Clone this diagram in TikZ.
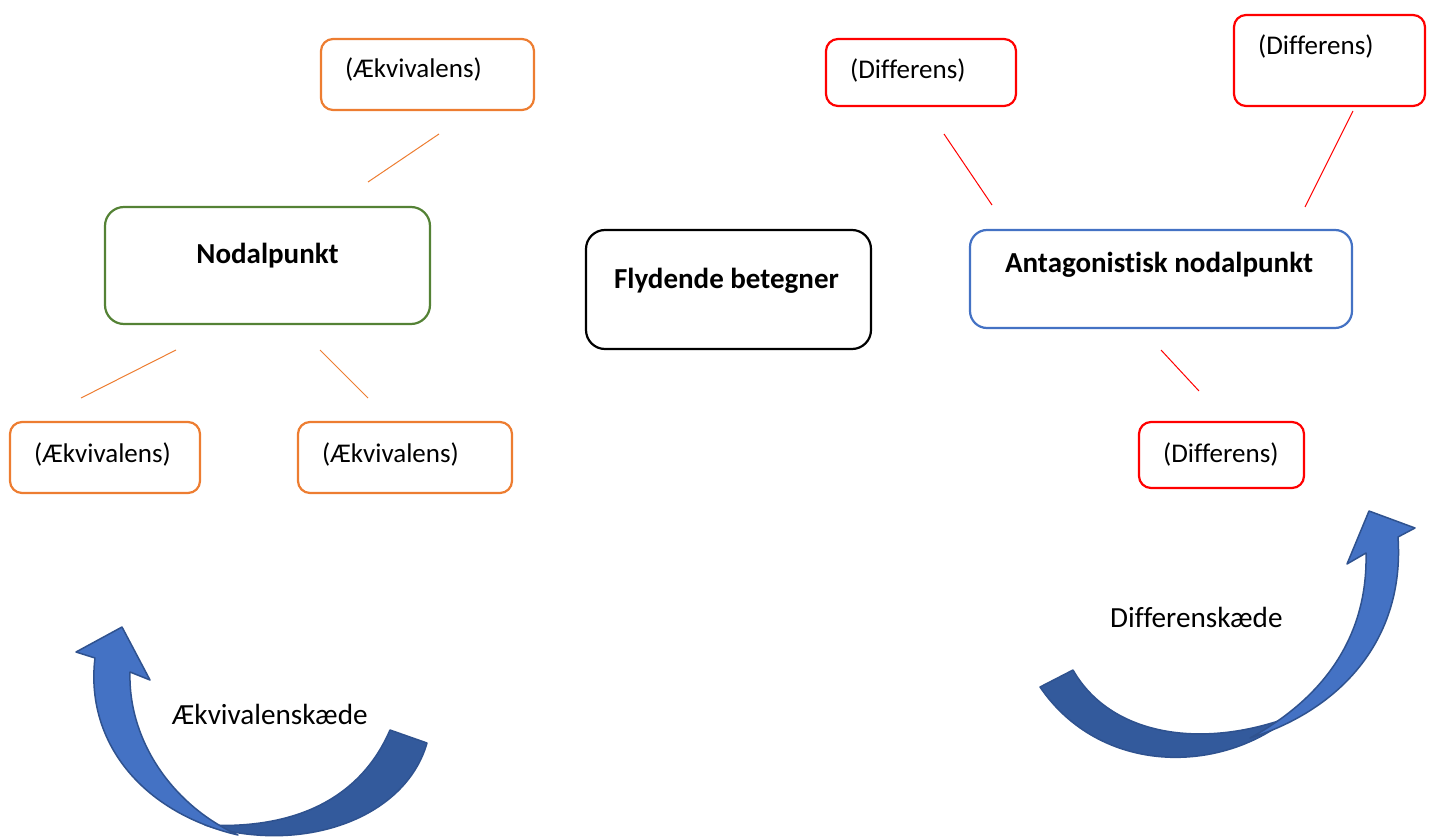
\documentclass[tikz,border=0pt]{standalone}
\usepackage{fontspec}
\setmainfont{Carlito}[Ligatures=NoCommon]
\usetikzlibrary{calc}
\definecolor{eqorange}{HTML}{ED7D31}
\definecolor{difred}{HTML}{FF0000}
\definecolor{nodgreen}{HTML}{548235}
\definecolor{antblue}{HTML}{4472C4}
\definecolor{arrlight}{HTML}{4472C4}
\definecolor{arrdark}{HTML}{335A9C}
\definecolor{arredge}{HTML}{2F528F}
\tikzset{
  bigbox/.style={draw, line width=2.2pt, rounded corners=19pt, fill=white, inner sep=0pt},
  smallbox/.style={draw, line width=2.2pt, rounded corners=12pt, fill=white, inner sep=0pt},
  boxlabel/.style={inner sep=0pt, anchor=base west, font=\fontsize{27}{32}\selectfont},
  headlabel/.style={inner sep=0pt, anchor=base, font=\fontsize{29}{34}\selectfont\bfseries},
  chainlabel/.style={inner sep=0pt, anchor=base west, font=\fontsize{29.2}{34}\selectfont},
  eqline/.style={eqorange, line width=1pt},
  difline/.style={difred, line width=1pt},
  lightband/.style={fill=arrlight, draw=arredge, line width=1.5pt, line join=round},
  darkband/.style={fill=arrdark, draw=arredge, line width=1.5pt, line join=round},
}
\begin{document}
\begin{tikzpicture}[x=1pt, y=-1pt]
\useasboundingbox (0,0) rectangle (1435,840);

% main boxes
\node[bigbox, draw=nodgreen, minimum width=325pt, minimum height=117pt] (nodal) at (267.5,265.5) {};
\node[headlabel] (nodaltxt) at ($(nodal.north)+(0,58)$) {Nodalpunkt};

\node[bigbox, draw=black, minimum width=285pt, minimum height=119pt] (flyd) at (728.5,289.5) {};
\node[headlabel] (flydtxt) at ($(flyd.north)+(-2,60)$) {Flydende betegner};

\node[bigbox, draw=antblue, minimum width=382pt, minimum height=98pt, rounded corners=17pt] (anta) at (1161,279) {};
\node[headlabel] (antatxt) at ($(anta.north)+(-2,44)$) {Antagonistisk nodalpunkt};

% equivalence boxes
\node[smallbox, draw=eqorange, minimum width=213pt, minimum height=71pt] (eqtop) at (427.5,74.5) {};
\node[boxlabel] (eqtoptxt) at ($(eqtop.north west)+(25,40)$) {(Ækvivalens)};

\node[smallbox, draw=eqorange, minimum width=190pt, minimum height=71pt] (eqleft) at (105,457.5) {};
\node[boxlabel] (eqlefttxt) at ($(eqleft.north west)+(25,42)$) {(Ækvivalens)};

\node[smallbox, draw=eqorange, minimum width=214pt, minimum height=71pt] (eqmid) at (405,457.5) {};
\node[boxlabel] (eqmidtxt) at ($(eqmid.north west)+(25,42)$) {(Ækvivalens)};

% difference boxes
\node[smallbox, draw=difred, minimum width=190pt, minimum height=67pt] (diftl) at (921,72.5) {};
\node[boxlabel] (diftltxt) at ($(diftl.north west)+(25,41)$) {(Differens)};

\node[smallbox, draw=difred, minimum width=191pt, minimum height=91pt] (diftr) at (1329.5,60.5) {};
\node[boxlabel] (diftrtxt) at ($(diftr.north west)+(25,41)$) {(Differens)};

\node[smallbox, draw=difred, minimum width=165pt, minimum height=66pt] (difb) at (1221.5,455) {};
\node[boxlabel] (difbtxt) at ($(difb.north west)+(25,42)$) {(Differens)};

% free-standing link strokes
\coordinate (e1a) at (368,182); \coordinate (e1b) at (439,134);
\coordinate (e2a) at (81,398);  \coordinate (e2b) at (176,350);
\coordinate (e3a) at (320,350); \coordinate (e3b) at (368,398);
\draw[eqline] (e1a) -- (e1b);
\draw[eqline] (e2a) -- (e2b);
\draw[eqline] (e3a) -- (e3b);

\coordinate (d1a) at (944,134);  \coordinate (d1b) at (992,205);
\coordinate (d2a) at (1353,111); \coordinate (d2b) at (1305,207);
\coordinate (d3a) at (1161,350); \coordinate (d3b) at (1199,391);
\draw[difline] (d1a) -- (d1b);
\draw[difline] (d2a) -- (d2b);
\draw[difline] (d3a) -- (d3b);

% curved arrow: chain of equivalence
\draw[darkband] (390,730) .. controls (362,795) and (300,830) .. (205,825)
  .. controls (300,855) and (405,820) .. (427,743) -- cycle;
\draw[lightband] (95,658) .. controls (85,740) and (140,812) .. (238,835)
  .. controls (172,805) and (128,740) .. (130,672)
  -- (150,680) -- (122,627) -- (76,652) -- cycle;
\node[chainlabel] (eqchain) at (172,724) {Ækvivalenskæde};

% curved arrow: chain of difference
\draw[darkband] (1073,670) .. controls (1110,735) and (1200,750) .. (1290,717)
  .. controls (1220,775) and (1100,775) .. (1040,687) -- cycle;
\draw[lightband] (1366,553) .. controls (1368,640) and (1320,700) .. (1250,738)
  .. controls (1340,710) and (1405,640) .. (1398,537)
  -- (1415,528) -- (1369,511) -- (1347,564) -- cycle;
\node[chainlabel] (difchain) at (1110,627) {Differenskæde};
\end{tikzpicture}
\end{document}
